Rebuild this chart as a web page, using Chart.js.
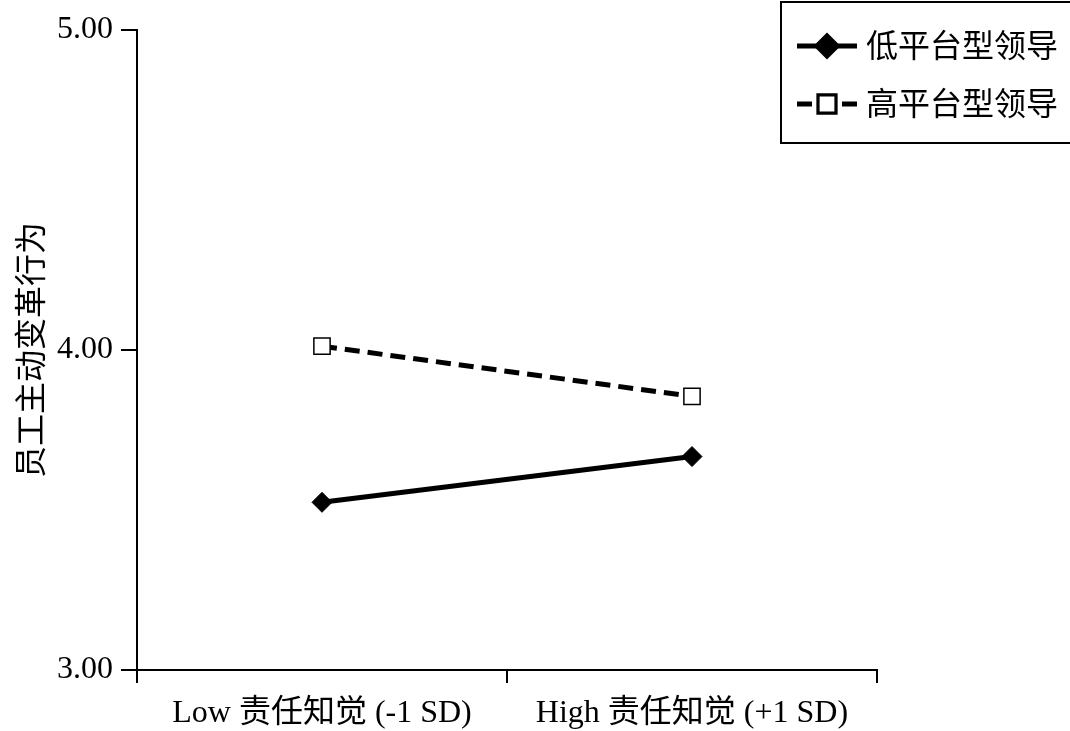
<!DOCTYPE html>
<html>
<head>
<meta charset="utf-8">
<script src="https://cdn.jsdelivr.net/npm/chart.js@4"></script>
<style>
  html, body { margin:0; padding:0; background:#fff; }
  #wrap { width:1070px; height:731px; position:relative; }
</style>
</head>
<body>
<div id="wrap"><canvas id="chart" width="1070" height="731"></canvas></div>
<script>
// simple slopes plot: two moderator levels across low/high perceived responsibility
const categories = ['Low 责任知觉 (-1 SD)', 'High 责任知觉 (+1 SD)'];
const seriesNames = ['低平台型领导', '高平台型领导'];
const lowPlatform = [3.524, 3.667];
const highPlatform = [4.012, 3.855];
const yTicks = [3.00, 4.00, 5.00];
const yTitle = '员工主动变革行为';

const SERIF = '"Liberation Serif", "Times New Roman", "Noto Sans CJK SC", serif';
const CJK = '"Liberation Serif", "Noto Sans CJK SC", serif';

// legend with line + marker inside a bordered box
const boxLegend = {
  id: 'boxLegend',
  afterDraw(chart){
    const ctx = chart.ctx;
    ctx.save();
    ctx.strokeStyle = '#000';
    ctx.lineWidth = 2;
    ctx.strokeRect(781, 2, 300, 141);
    const rows = [46, 104];
    chart.data.datasets.forEach((ds, i) => {
      const y = rows[i];
      ctx.beginPath();
      ctx.lineWidth = 5;
      if(ds.borderDash && ds.borderDash.length){
        ctx.moveTo(797, y); ctx.lineTo(812, y);
        ctx.moveTo(842, y); ctx.lineTo(857, y);
      } else {
        ctx.moveTo(797, y); ctx.lineTo(857, y);
      }
      ctx.stroke();
      Chart.helpers.drawPoint(ctx, {
        pointStyle: ds.pointStyle,
        radius: ds.pointRadius,
        borderWidth: ds.pointBorderWidth
      }, 827, y);
      ctx.fillStyle = ds.pointBackgroundColor;
      ctx.strokeStyle = '#000';
      ctx.lineWidth = ds.pointBorderWidth;
      ctx.fill();
      ctx.stroke();
      ctx.fillStyle = '#000';
      ctx.font = '32px ' + CJK;
      ctx.textBaseline = 'middle';
      ctx.fillText(ds.label, 866, y + 3);
    });
    ctx.restore();
  }
};

new Chart(document.getElementById('chart').getContext('2d'), {
  type: 'line',
  data: {
    labels: categories,
    datasets: [
      {
        label: seriesNames[0],
        data: lowPlatform,
        borderColor: '#000',
        borderWidth: 5,
        pointStyle: 'rectRot',
        pointRadius: 10,
        pointBackgroundColor: '#000',
        pointBorderColor: '#000',
        pointBorderWidth: 1
      },
      {
        label: seriesNames[1],
        data: highPlatform,
        borderColor: '#000',
        borderWidth: 5,
        borderDash: [15, 8],
        pointStyle: 'rect',
        pointRadius: 11.5,
        pointBackgroundColor: '#fff',
        pointBorderColor: '#000',
        pointBorderWidth: 1.5
      }
    ]
  },
  options: {
    responsive: false,
    animation: false,
    layout: { padding: { top: 30, right: 193, left: 0, bottom: 0 } },
    plugins: { legend: { display: false }, tooltip: { enabled: false } },
    scales: {
      x: {
        offset: true,
        border: { display: true, color: '#000', width: 2 },
        grid: { offset: true, drawOnChartArea: false, drawTicks: true, tickLength: 13, color: '#000', lineWidth: 2 },
        ticks: { color: '#000', font: { family: CJK, size: 32 }, padding: 11, maxRotation: 0 },
        afterFit(scale){ scale.height = 61; }
      },
      y: {
        min: 3, max: 5,
        border: { display: true, color: '#000', width: 2 },
        grid: { drawOnChartArea: false, drawTicks: true, tickLength: 16, color: '#000', lineWidth: 2 },
        afterBuildTicks(scale){ scale.ticks = yTicks.map(v => ({ value: v })); },
        ticks: {
          color: '#000',
          font: { family: SERIF, size: 32 },
          padding: 8,
          callback: v => Number(v).toFixed(2)
        },
        title: {
          display: true, text: yTitle, color: '#000',
          font: { family: CJK, size: 32 }, padding: { top: 14, bottom: 0 }
        },
        afterFit(scale){ scale.width = 137; }
      }
    }
  },
  plugins: [boxLegend]
});
</script>
</body>
</html>
